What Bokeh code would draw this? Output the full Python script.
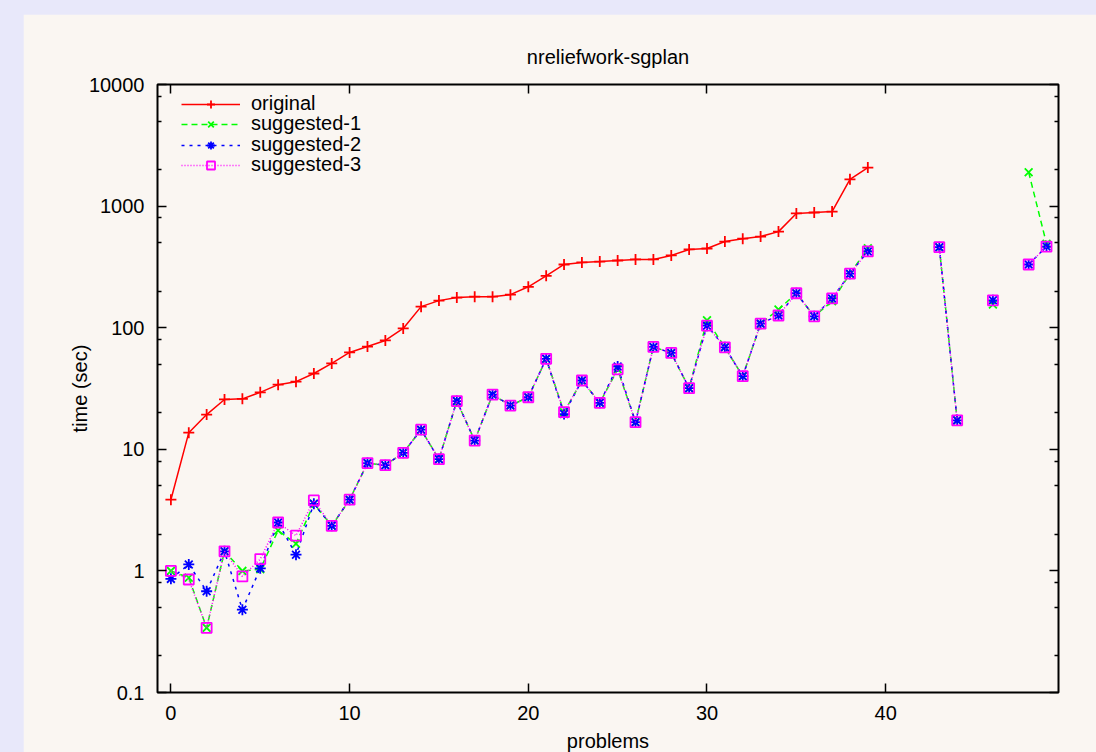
import math
from bokeh.plotting import figure
from bokeh.models import (FixedTicker, LinearAxis, LogAxis, CustomJSTickFormatter,
                          CustomLabelingPolicy, Legend, LegendItem,
                          GlobalInlineStyleSheet, Range1d)
from bokeh.embed import file_html
from bokeh.resources import INLINE

nan = float("nan")

problems = list(range(50))

original = [3.85, 13.7, 19.3, 25.7, 26, 29.4, 34, 36, 42, 50.8,
            62.6, 70, 78.6, 98.6, 149, 167, 177, 180, 180, 187,
            217, 267, 331, 344, 350, 357, 364, 364, 393, 440,
            448, 511, 540, 562, 617, 870, 886, 902, 1660, 2074,
            nan, nan, nan, nan, nan, nan, nan, nan, nan, nan]

suggested_1 = [1.0, 0.88, 0.34, 1.45, 1.0, 1.03, 2.15, 1.67, 3.56, 2.35,
               3.85, 7.7, 7.4, 9.35, 14.5, 8.3, 24.9, 11.8, 28.2, 22.9,
               26.8, 55.5, 20.2, 36.8, 24.1, 45.5, 16.7, 69.5, 62, 31.8,
               115, 69, 39.9, 108, 141, 192, 124, 165, 278, 450,
               nan, nan, nan, 459, 17.3, nan, 155, nan, 1900, 490]

suggested_2 = [0.86, 1.13, 0.68, 1.45, 0.48, 1.05, 2.5, 1.36, 3.56, 2.35,
               3.85, 7.7, 7.4, 9.35, 14.5, 8.3, 24.9, 11.8, 28.2, 22.9,
               26.8, 55.5, 19.5, 36.8, 24.1, 48, 16.7, 69.5, 62, 31.8,
               104, 69, 39.9, 108, 126, 192, 124, 174, 278, 424,
               nan, nan, nan, 459, 17.3, nan, 168, nan, 331, 465]

suggested_3 = [1.0, 0.85, 0.34, 1.45, 0.9, 1.25, 2.5, 1.95, 3.8, 2.35,
               3.85, 7.7, 7.4, 9.35, 14.5, 8.3, 24.9, 11.8, 28.2, 22.9,
               26.8, 55.5, 20.2, 36.8, 24.1, 45.5, 16.7, 69.5, 62, 31.8,
               104, 69, 39.9, 108, 126, 192, 124, 174, 278, 424,
               nan, nan, nan, 459, 17.3, nan, 168, nan, 331, 465]

x_ticks = [0, 10, 20, 30, 40]
y_ticks = [0.1, 1, 10, 100, 1000, 10000]
y_minor = [m * d for d in [0.1, 1, 10, 100, 1000] for m in (2, 5, 8)]

FONT = "Liberation Sans"
BEIGE = "#faf6f2"
LAVENDER = "#e8e8fa"

css = GlobalInlineStyleSheet(css=(
    f"html {{ background-color: {LAVENDER}; overflow: hidden; }} "
    f"body {{ background-color: {LAVENDER}; overflow: hidden; margin: 14px 0 0 23px; }}"))

p = figure(frame_width=901, frame_height=608, y_axis_type="log",
           x_range=Range1d(-0.75, 49.67), y_range=Range1d(0.1, 10000),
           output_backend="svg", toolbar_location=None,
           min_border_left=134, min_border_top=70, min_border_right=38, min_border_bottom=60,
           background_fill_color=BEIGE, border_fill_color=BEIGE,
           stylesheets=[css])

p.title.text = "nreliefwork-sgplan"
p.title.align = "center"
p.title.text_font = FONT
p.title.text_font_size = "20px"
p.title.text_font_style = "normal"
p.title.text_color = "black"
p.title.standoff = 26

p.xgrid.visible = False
p.ygrid.visible = False
p.outline_line_color = "black"
p.outline_line_width = 2
p.outline_line_alpha = 1

yfmt = CustomJSTickFormatter(code="return tick.toString();")
no_labels = CustomLabelingPolicy(code="""
for (const i of indices) { indices.unset(i) }
return indices
""")


def style_axis(ax, show_labels):
    ax.axis_line_color = None
    ax.major_tick_in = 9
    ax.major_tick_out = 0
    ax.minor_tick_in = 4
    ax.minor_tick_out = 0
    ax.major_tick_line_color = "black"
    ax.major_tick_line_width = 1.5
    ax.minor_tick_line_color = "black"
    ax.minor_tick_line_width = 1.5
    if show_labels:
        ax.major_label_text_font = FONT
        ax.major_label_text_font_size = "20px"
        ax.major_label_text_color = "black"
        ax.axis_label_text_font = FONT
        ax.axis_label_text_font_size = "20px"
        ax.axis_label_text_font_style = "normal"
        ax.axis_label_text_color = "black"
    else:
        ax.major_label_policy = no_labels
        ax.major_label_text_font_size = "1px"
        ax.major_label_standoff = 0


xb = p.xaxis[0]
xb.ticker = FixedTicker(ticks=x_ticks, minor_ticks=[])
xb.axis_label = "problems"
style_axis(xb, True)
xb.major_label_standoff = 13
xb.axis_label_standoff = 7

yl = p.yaxis[0]
yl.ticker = FixedTicker(ticks=y_ticks, minor_ticks=y_minor)
yl.formatter = yfmt
yl.axis_label = "time (sec)"
style_axis(yl, True)
yl.major_label_standoff = 13
yl.axis_label_standoff = -5

xt = LinearAxis(ticker=FixedTicker(ticks=x_ticks, minor_ticks=[]))
style_axis(xt, False)
p.add_layout(xt, "above")

yr = LogAxis(ticker=FixedTicker(ticks=y_ticks, minor_ticks=y_minor), formatter=yfmt)
style_axis(yr, False)
p.add_layout(yr, "right")

series = [
    ("original", original, "#ff0000", "solid", "cross", 11),
    ("suggested-1", suggested_1, "#00ff00", "6 4", "x", 11),
    ("suggested-2", suggested_2, "#0000ff", "3 5", "asterisk", 11),
    ("suggested-3", suggested_3, "#ff00ff", "1 2", "square", 10),
]

# one legend per row so rows sit at the reference's tight spacing
legend_rows_vy = [577, 557, 536, 516]

for (name, vals, col, dash, mk, sz), vy in zip(series, legend_rows_vy):
    ln = p.line(problems, vals, line_color=col, line_width=1.5, line_dash=dash)
    sc = p.scatter(problems, vals, marker=mk, size=sz, line_color=col,
                   fill_color=None, line_width=1.8)
    leg = Legend(items=[LegendItem(label=name, renderers=[ln, sc])], location=(24, vy),
                 border_line_color=None, background_fill_alpha=0,
                 label_text_font=FONT, label_text_font_size="20px", label_text_color="black",
                 glyph_width=59, glyph_height=20, label_height=20, label_standoff=11,
                 spacing=0, padding=0, margin=0)
    p.add_layout(leg)

open("out.html", "w").write(file_html(p, INLINE))
